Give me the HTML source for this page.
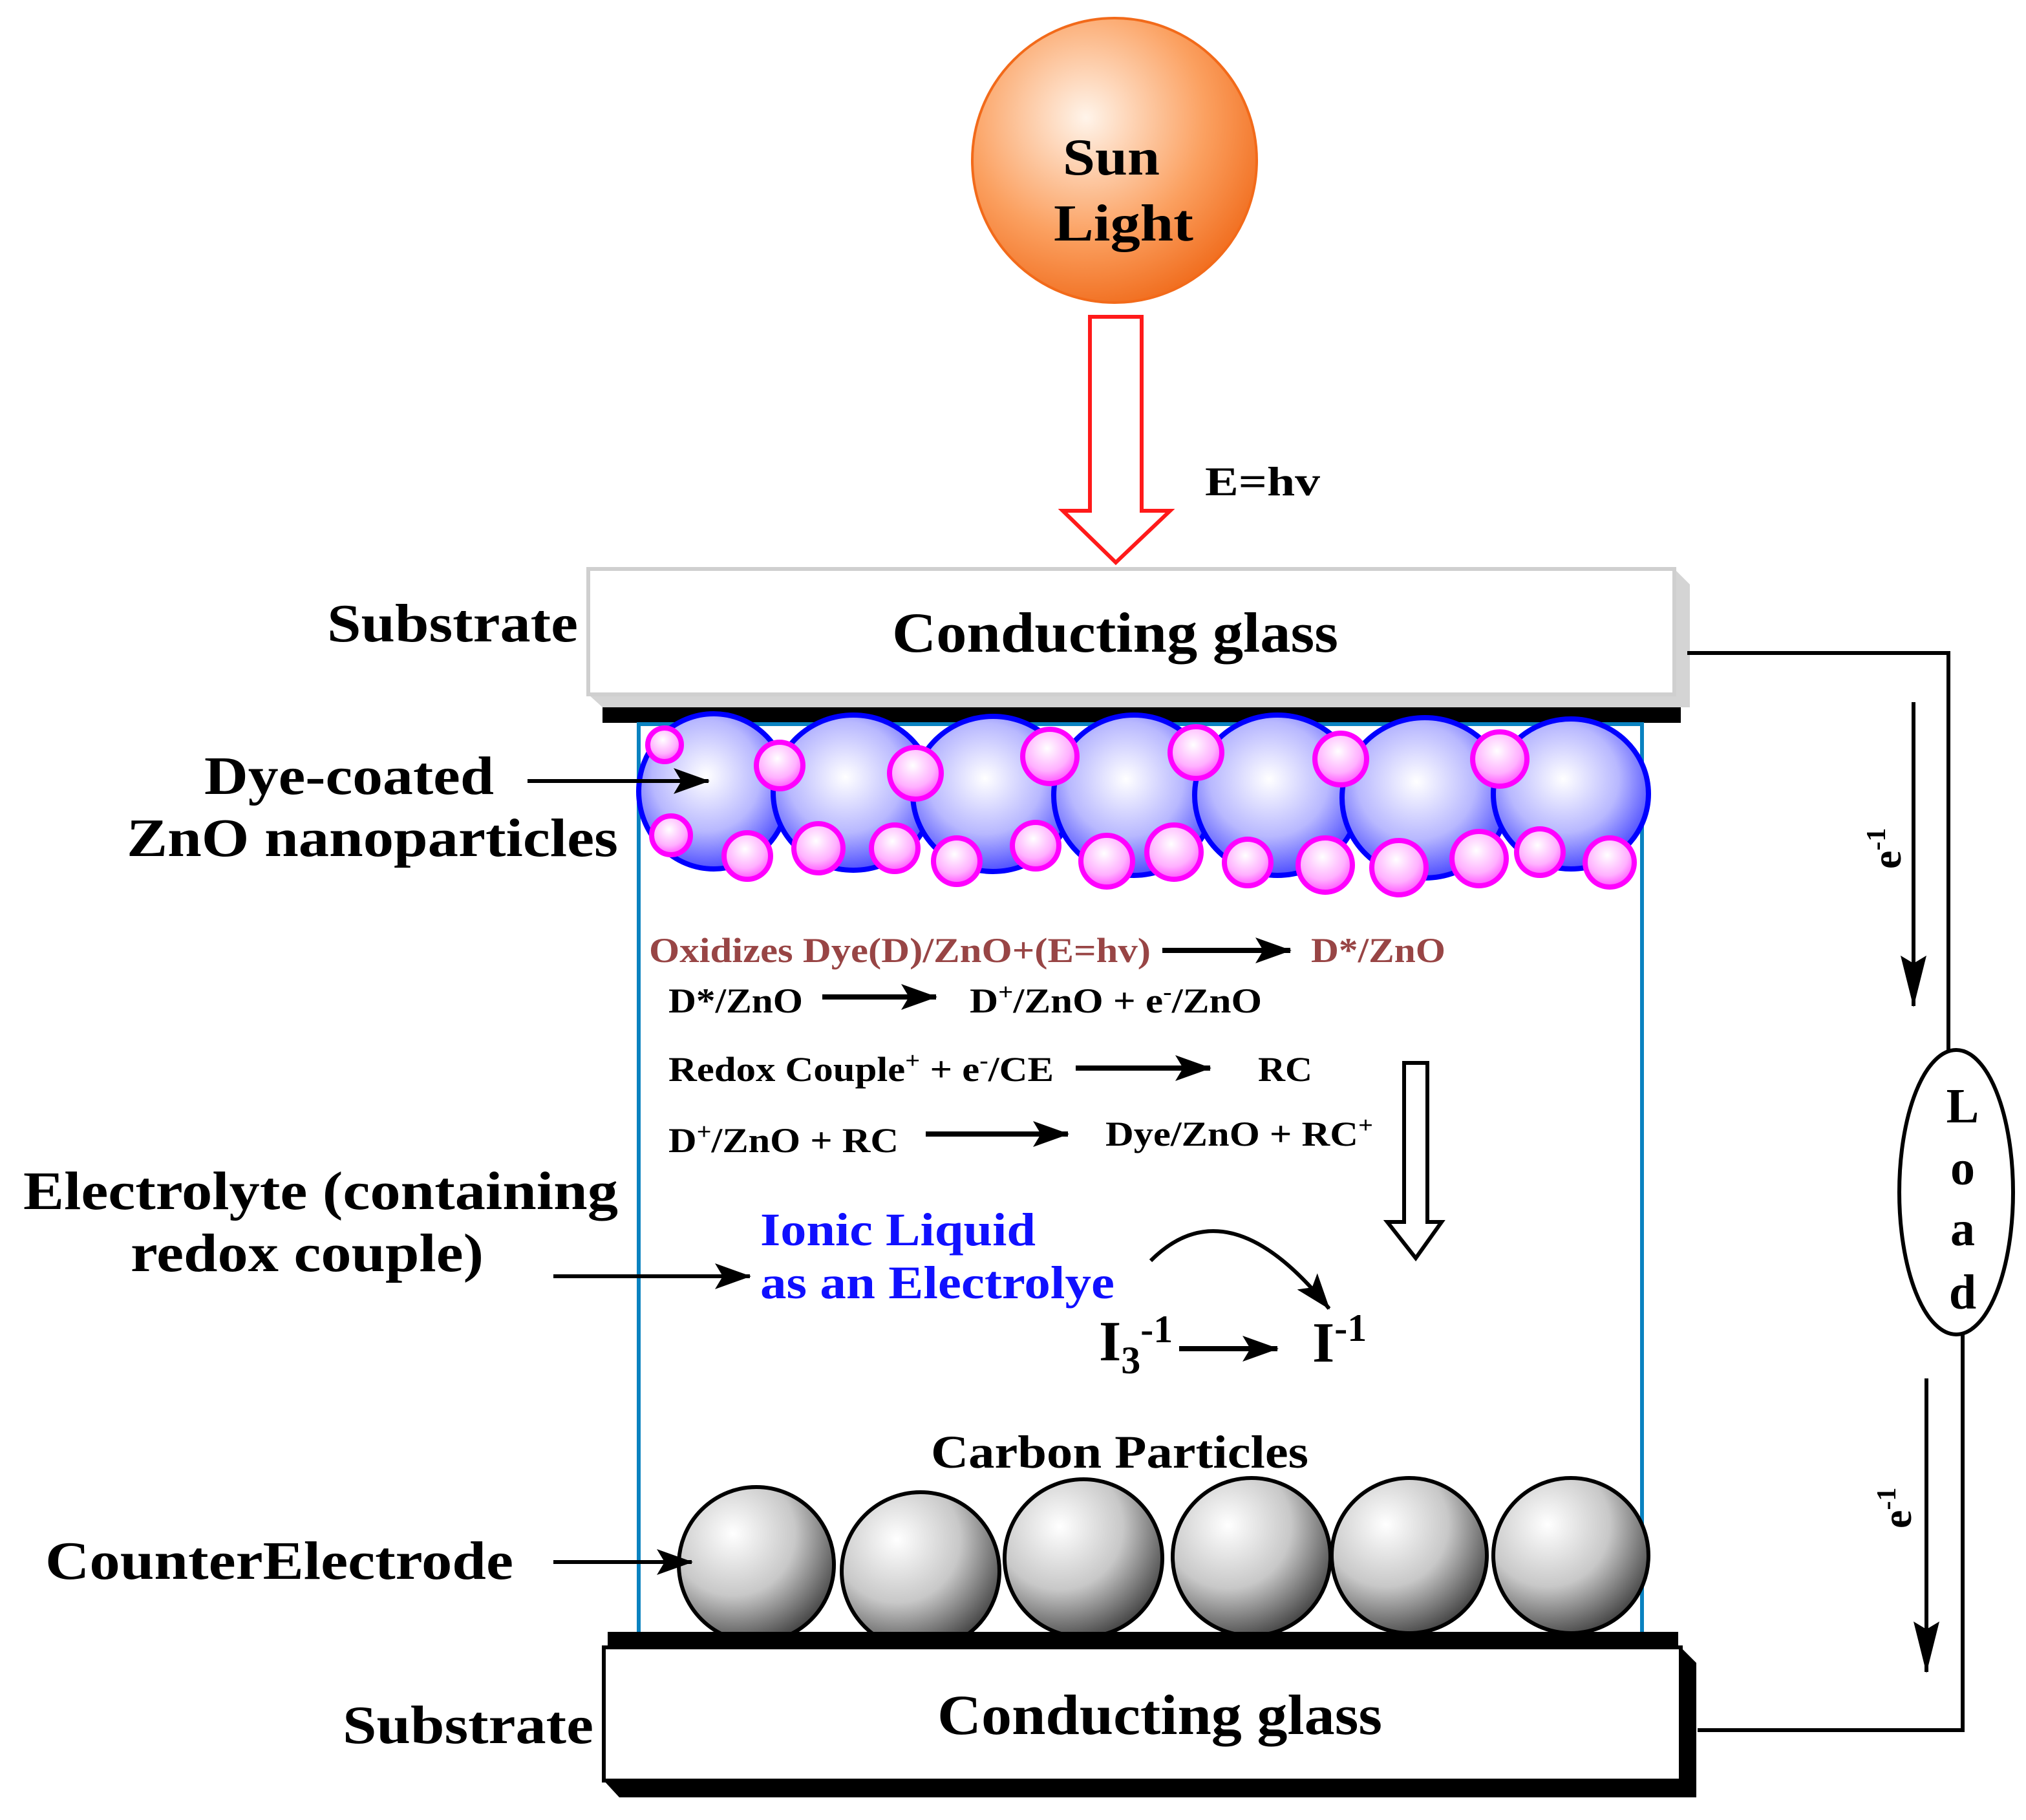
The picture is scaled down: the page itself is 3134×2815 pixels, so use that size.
<!DOCTYPE html>
<html><head><meta charset="utf-8"><style>
html,body{margin:0;padding:0;background:#fff}
svg{display:block}
text{font-family:"Liberation Serif",serif;font-weight:bold}
</style></head><body>
<svg width="3134" height="2815" viewBox="0 0 1567 1407.5" xmlns="http://www.w3.org/2000/svg">
<defs>
<radialGradient id="sun" cx="0.4" cy="0.35" r="0.7">
<stop offset="0" stop-color="#fff4ea"/><stop offset="0.6" stop-color="#fba060"/><stop offset="1" stop-color="#f06a1a"/></radialGradient>
<radialGradient id="blue" cx="0.45" cy="0.4" r="0.65">
<stop offset="0" stop-color="#ffffff"/><stop offset="0.55" stop-color="#b8b8ff"/><stop offset="1" stop-color="#3a3aff"/></radialGradient>
<radialGradient id="pink" cx="0.45" cy="0.35" r="0.7">
<stop offset="0" stop-color="#ffffff"/><stop offset="0.6" stop-color="#ffb0ff"/><stop offset="1" stop-color="#ff40ff"/></radialGradient>
<radialGradient id="gray" cx="0.35" cy="0.3" r="0.8">
<stop offset="0" stop-color="#ffffff"/><stop offset="0.5" stop-color="#c8c8c8"/><stop offset="1" stop-color="#303030"/></radialGradient>
<marker id="ah" viewBox="0 0 28 20" refX="27" refY="10" markerWidth="28" markerHeight="20" markerUnits="userSpaceOnUse" orient="auto">
<path d="M0,0 L28,10 L0,20 L6,10 Z" fill="#000"/></marker>
<marker id="ahv" viewBox="0 0 40 20" refX="39" refY="10" markerWidth="40" markerHeight="20" markerUnits="userSpaceOnUse" orient="auto">
<path d="M0,0 L40,10 L0,20 L6,10 Z" fill="#000"/></marker>
</defs>

<!-- Sun -->
<circle cx="862" cy="124" r="110" fill="url(#sun)" stroke="#f26a1a" stroke-width="2"/>
<text x="822" y="135" font-size="40" textLength="75" lengthAdjust="spacingAndGlyphs">Sun</text>
<text x="815" y="186" font-size="40" textLength="108" lengthAdjust="spacingAndGlyphs">Light</text>
<!-- red arrow -->
<path d="M843,245 H883 V395 H905 L863,435 L822,395 H843 Z" fill="#fff" stroke="#ff1a1a" stroke-width="3"/>
<text x="932" y="383" font-size="32" textLength="89" lengthAdjust="spacingAndGlyphs">E=hv</text>

<!-- Top glass -->
<path d="M1295,440 L1307,452 V547 H466 L455,537 Z" fill="#d4d4d4"/>
<rect x="455" y="440" width="840" height="97" fill="#fff" stroke="#cfcfcf" stroke-width="3"/>
<text x="690" y="504" font-size="44" textLength="345" lengthAdjust="spacingAndGlyphs">Conducting glass</text>
<text x="253" y="496" font-size="42" textLength="194" lengthAdjust="spacingAndGlyphs">Substrate</text>
<rect x="466" y="547" width="834" height="12" fill="#000"/>

<!-- container -->
<path d="M494,1262 V560 H1270 V1262" fill="none" stroke="#0a82c0" stroke-width="3"/>

<!-- Blue spheres -->
<g fill="url(#blue)" stroke="#0000ff" stroke-width="4">
<ellipse cx="552" cy="612" rx="58" ry="60"/>
<ellipse cx="660" cy="613" rx="62" ry="60"/>
<ellipse cx="768" cy="614" rx="62" ry="60"/>
<ellipse cx="877" cy="615" rx="62" ry="62"/>
<ellipse cx="988" cy="615" rx="64" ry="62"/>
<ellipse cx="1102" cy="617" rx="64" ry="62"/>
<ellipse cx="1215" cy="614" rx="60" ry="58"/>
</g>
<g fill="url(#pink)" stroke="#ff00ff" stroke-width="4">
<circle cx="514" cy="576" r="13"/><circle cx="603" cy="592" r="18"/><circle cx="708" cy="598" r="20"/>
<circle cx="812" cy="585" r="21"/><circle cx="925" cy="582" r="20"/><circle cx="1037" cy="587" r="20"/>
<circle cx="1160" cy="587" r="21"/>
<circle cx="519" cy="646" r="15"/><circle cx="578" cy="662" r="18"/><circle cx="633" cy="656" r="19"/>
<circle cx="692" cy="656" r="18"/><circle cx="740" cy="666" r="18"/><circle cx="801" cy="654" r="18"/>
<circle cx="856" cy="666" r="20"/><circle cx="908" cy="659" r="21"/><circle cx="965" cy="667" r="18"/>
<circle cx="1025" cy="669" r="21"/><circle cx="1082" cy="671" r="21"/><circle cx="1144" cy="664" r="21"/>
<circle cx="1191" cy="659" r="18"/><circle cx="1245" cy="667" r="19"/>
</g>
<text x="158" y="614" font-size="42" textLength="224" lengthAdjust="spacingAndGlyphs">Dye-coated</text>
<text x="98" y="662" font-size="42" textLength="380" lengthAdjust="spacingAndGlyphs">ZnO nanoparticles</text>
<line x1="408" y1="604" x2="548" y2="604" stroke="#000" stroke-width="3" marker-end="url(#ah)"/>

<!-- reactions -->
<g font-size="27">
<text x="502" y="744" fill="#984545" textLength="388" lengthAdjust="spacingAndGlyphs">Oxidizes Dye(D)/ZnO+(E=hv)</text>
<text x="1014" y="744" fill="#984545" textLength="104" lengthAdjust="spacingAndGlyphs">D*/ZnO</text>
<text x="517" y="783" textLength="104" lengthAdjust="spacingAndGlyphs">D*/ZnO</text>
<text x="750" y="783" textLength="226" lengthAdjust="spacingAndGlyphs">D<tspan font-size="18" dy="-10">+</tspan><tspan dy="10">/ZnO + e</tspan><tspan font-size="18" dy="-10">-</tspan><tspan dy="10">/ZnO</tspan></text>
<text x="517" y="836" textLength="298" lengthAdjust="spacingAndGlyphs">Redox Couple<tspan font-size="18" dy="-10">+</tspan><tspan dy="10"> + e</tspan><tspan font-size="18" dy="-10">-</tspan><tspan dy="10">/CE</tspan></text>
<text x="973" y="836" textLength="42" lengthAdjust="spacingAndGlyphs">RC</text>
<text x="517" y="891" textLength="178" lengthAdjust="spacingAndGlyphs">D<tspan font-size="18" dy="-10">+</tspan><tspan dy="10">/ZnO + RC</tspan></text>
<text x="855" y="886" textLength="207" lengthAdjust="spacingAndGlyphs">Dye/ZnO + RC<tspan font-size="18" dy="-10">+</tspan></text>
</g>
<g stroke="#000" stroke-width="4" marker-end="url(#ah)">
<line x1="899" y1="735" x2="998" y2="735"/>
<line x1="636" y1="771" x2="724" y2="771"/>
<line x1="832" y1="826" x2="936" y2="826"/>
<line x1="716" y1="877" x2="826" y2="877"/>
<line x1="912" y1="1043" x2="988" y2="1043"/>
</g>
<path d="M1086,822 H1104 V945 H1115 L1095,973 L1073,945 H1086 Z" fill="#fff" stroke="#000" stroke-width="3"/>

<text x="18" y="935" font-size="42" textLength="460" lengthAdjust="spacingAndGlyphs">Electrolyte (containing</text>
<text x="101" y="983" font-size="42" textLength="273" lengthAdjust="spacingAndGlyphs">redox couple)</text>
<line x1="428" y1="987" x2="580" y2="987" stroke="#000" stroke-width="3" marker-end="url(#ah)"/>
<text x="588" y="963" font-size="36" fill="#1010ff" textLength="213" lengthAdjust="spacingAndGlyphs">Ionic Liquid</text>
<text x="588" y="1004" font-size="36" fill="#1010ff" textLength="274" lengthAdjust="spacingAndGlyphs">as an Electrolye</text>
<path d="M890,975 Q950,915 1028,1012" fill="none" stroke="#000" stroke-width="3" marker-end="url(#ah)"/>
<text x="850" y="1052" font-size="44">I<tspan font-size="30" dy="10">3</tspan><tspan font-size="30" dy="-24">-1</tspan></text>
<text x="1015" y="1053" font-size="44">I<tspan font-size="30" dy="-16">-1</tspan></text>

<text x="720" y="1135" font-size="36" textLength="292" lengthAdjust="spacingAndGlyphs">Carbon Particles</text>
<g fill="url(#gray)" stroke="#000" stroke-width="3">
<circle cx="585" cy="1210" r="60"/><circle cx="712" cy="1215" r="61"/><circle cx="838" cy="1205" r="61"/>
<circle cx="968" cy="1204" r="61"/><circle cx="1090" cy="1203" r="60"/><circle cx="1215" cy="1203" r="60"/>
</g>
<text x="35" y="1221" font-size="42" textLength="362" lengthAdjust="spacingAndGlyphs">CounterElectrode</text>
<line x1="428" y1="1208" x2="535" y2="1208" stroke="#000" stroke-width="3" marker-end="url(#ah)"/>

<!-- bottom glass -->
<rect x="470" y="1262" width="828" height="12" fill="#000"/>
<path d="M1300,1274 L1312,1286 V1390 H479 L467,1377 Z" fill="#000"/>
<rect x="467" y="1274" width="833" height="103" fill="#fff" stroke="#000" stroke-width="3"/>
<text x="725" y="1341" font-size="44" textLength="344" lengthAdjust="spacingAndGlyphs">Conducting glass</text>
<text x="265" y="1348" font-size="42" textLength="194" lengthAdjust="spacingAndGlyphs">Substrate</text>

<!-- circuit -->
<path d="M1305,505 H1507 V812" fill="none" stroke="#000" stroke-width="3"/>
<path d="M1518,1032 V1338 H1313" fill="none" stroke="#000" stroke-width="3"/>
<ellipse cx="1513" cy="922" rx="44" ry="110" fill="#fff" stroke="#000" stroke-width="3"/>
<g font-size="38" text-anchor="middle">
<text x="1518" y="868">L</text><text x="1518" y="916">o</text><text x="1518" y="963">a</text><text x="1518" y="1012">d</text>
</g>
<line x1="1480" y1="543" x2="1480" y2="778" stroke="#000" stroke-width="3" marker-end="url(#ahv)"/>
<line x1="1490" y1="1066" x2="1490" y2="1293" stroke="#000" stroke-width="3" marker-end="url(#ahv)"/>
<text transform="translate(1470,672) rotate(-90)" font-size="32">e<tspan font-size="21" dy="-12">-1</tspan></text>
<text transform="translate(1478,1182) rotate(-90)" font-size="32">e<tspan font-size="21" dy="-12">-1</tspan></text>
</svg>
</body></html>
